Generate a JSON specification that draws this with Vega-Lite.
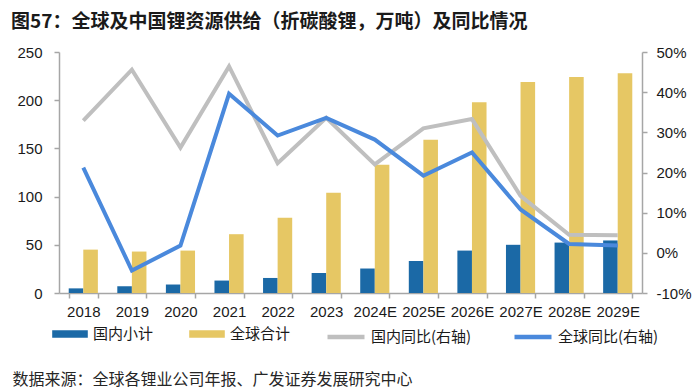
{
  "$schema": "https://vega.github.io/schema/vega-lite/v6.json",
  "width": 583,
  "height": 241,
  "autosize": {"type": "none"},
  "padding": {"left": 59, "top": 52, "right": 58, "bottom": 99},
  "background": "white",
  "title": {
    "text": "图57：全球及中国锂资源供给（折碳酸锂，万吨）及同比情况",
    "anchor": "start",
    "frame": "group",
    "dx": -48,
    "offset": 4,
    "baseline": "middle",
    "font": "Noto Sans CJK SC",
    "fontSize": 19,
    "fontWeight": "bold",
    "color": "#1a1a1a"
  },
  "config": {
    "view": {"stroke": null},
    "axis": {
      "grid": false,
      "domainColor": "#a6a6a6",
      "domainWidth": 1.5,
      "tickColor": "#a6a6a6",
      "tickWidth": 1.5,
      "tickSize": 5,
      "labelFont": "Liberation Sans",
      "labelFontSize": 15,
      "labelColor": "#1a1a1a"
    },
    "legend": {
      "labelFont": "Noto Sans CJK SC",
      "labelFontSize": 15,
      "labelColor": "#1a1a1a",
      "padding": 0,
      "title": null
    }
  },
  "datasets": {
    "bars": [
      {"year": "2018", "series": "国内小计", "value": 4.8},
      {"year": "2018", "series": "全球合计", "value": 45},
      {"year": "2019", "series": "国内小计", "value": 7},
      {"year": "2019", "series": "全球合计", "value": 43},
      {"year": "2020", "series": "国内小计", "value": 8.8},
      {"year": "2020", "series": "全球合计", "value": 44},
      {"year": "2021", "series": "国内小计", "value": 12.9},
      {"year": "2021", "series": "全球合计", "value": 61},
      {"year": "2022", "series": "国内小计", "value": 15.6},
      {"year": "2022", "series": "全球合计", "value": 78},
      {"year": "2023", "series": "国内小计", "value": 20.8},
      {"year": "2023", "series": "全球合计", "value": 104},
      {"year": "2024E", "series": "国内小计", "value": 25.4},
      {"year": "2024E", "series": "全球合计", "value": 133},
      {"year": "2025E", "series": "国内小计", "value": 33.2},
      {"year": "2025E", "series": "全球合计", "value": 159},
      {"year": "2026E", "series": "国内小计", "value": 44},
      {"year": "2026E", "series": "全球合计", "value": 198},
      {"year": "2027E", "series": "国内小计", "value": 50},
      {"year": "2027E", "series": "全球合计", "value": 219},
      {"year": "2028E", "series": "国内小计", "value": 52.3},
      {"year": "2028E", "series": "全球合计", "value": 224},
      {"year": "2029E", "series": "国内小计", "value": 54.5},
      {"year": "2029E", "series": "全球合计", "value": 228}
    ],
    "lines": [
      {"year": "2018", "series": "国内同比(右轴)", "yoy": 32.9},
      {"year": "2019", "series": "国内同比(右轴)", "yoy": 45.6},
      {"year": "2020", "series": "国内同比(右轴)", "yoy": 26.2},
      {"year": "2021", "series": "国内同比(右轴)", "yoy": 46.4},
      {"year": "2022", "series": "国内同比(右轴)", "yoy": 22.3},
      {"year": "2023", "series": "国内同比(右轴)", "yoy": 33.6},
      {"year": "2024E", "series": "国内同比(右轴)", "yoy": 22},
      {"year": "2025E", "series": "国内同比(右轴)", "yoy": 31},
      {"year": "2026E", "series": "国内同比(右轴)", "yoy": 33.3},
      {"year": "2027E", "series": "国内同比(右轴)", "yoy": 14.2},
      {"year": "2028E", "series": "国内同比(右轴)", "yoy": 4.5},
      {"year": "2029E", "series": "国内同比(右轴)", "yoy": 4.4},
      {"year": "2018", "series": "全球同比(右轴)", "yoy": 21.2},
      {"year": "2019", "series": "全球同比(右轴)", "yoy": -4.4},
      {"year": "2020", "series": "全球同比(右轴)", "yoy": 1.8},
      {"year": "2021", "series": "全球同比(右轴)", "yoy": 39.6},
      {"year": "2022", "series": "全球同比(右轴)", "yoy": 29.2},
      {"year": "2023", "series": "全球同比(右轴)", "yoy": 33.6},
      {"year": "2024E", "series": "全球同比(右轴)", "yoy": 28.2},
      {"year": "2025E", "series": "全球同比(右轴)", "yoy": 19.2},
      {"year": "2026E", "series": "全球同比(右轴)", "yoy": 25},
      {"year": "2027E", "series": "全球同比(右轴)", "yoy": 10.8},
      {"year": "2028E", "series": "全球同比(右轴)", "yoy": 2.2},
      {"year": "2029E", "series": "全球同比(右轴)", "yoy": 1.8}
    ]
  },
  "layer": [
    {
      "data": {"name": "bars"},
      "mark": {"type": "bar"},
      "encoding": {
        "x": {
          "field": "year",
          "type": "nominal",
          "sort": null,
          "scale": {"paddingInner": 0.4, "paddingOuter": 0.2},
          "axis": {
            "labelAngle": 0,
            "tickBand": "extent",
            "labelPadding": 6,
            "title": "数据来源：全球各锂业公司年报、广发证券发展研究中心",
            "titleX": -47,
            "titleY": 86,
            "titleAlign": "left",
            "titleBaseline": "middle",
            "titleFont": "Noto Sans CJK SC",
            "titleFontSize": 16,
            "titleFontWeight": "normal",
            "titleColor": "#262626"
          }
        },
        "xOffset": {
          "field": "series",
          "type": "nominal",
          "sort": ["国内小计", "全球合计"],
          "scale": {"paddingInner": 0, "paddingOuter": 0}
        },
        "y": {
          "field": "value",
          "type": "quantitative",
          "scale": {"domain": [0, 250], "nice": false},
          "axis": {"values": [0, 50, 100, 150, 200, 250], "labelPadding": 12, "title": null}
        },
        "fill": {
          "field": "series",
          "type": "nominal",
          "sort": ["国内小计", "全球合计"],
          "scale": {"domain": ["国内小计", "全球合计"], "range": ["#1b69a6", "#e6c764"]},
          "legend": {
            "orient": "none",
            "direction": "horizontal",
            "legendX": -7,
            "legendY": 264,
            "symbolType": "M-1,-0.21L1,-0.21L1,0.21L-1,0.21Z",
            "symbolSize": 1267,
            "symbolStrokeWidth": 0,
            "labelOffset": 5,
            "columnPadding": 35
          }
        }
      }
    },
    {
      "data": {"name": "lines"},
      "mark": {"type": "line", "strokeWidth": 4},
      "encoding": {
        "x": {"field": "year", "type": "nominal", "sort": null},
        "y": {
          "field": "yoy",
          "type": "quantitative",
          "scale": {"domain": [-10, 50], "nice": false},
          "axis": {
            "orient": "right",
            "values": [-10, 0, 10, 20, 30, 40, 50],
            "labelExpr": "datum.value + '%'",
            "labelPadding": 9,
            "title": null
          }
        },
        "stroke": {
          "field": "series",
          "type": "nominal",
          "sort": ["国内同比(右轴)", "全球同比(右轴)"],
          "scale": {"domain": ["国内同比(右轴)", "全球同比(右轴)"], "range": ["#bfbfbf", "#4a89dc"]},
          "legend": {
            "orient": "none",
            "direction": "horizontal",
            "legendX": 266,
            "legendY": 264,
            "symbolType": "stroke",
            "symbolSize": 1369,
            "symbolStrokeWidth": 4.5,
            "labelOffset": 4,
            "columnPadding": 33
          }
        }
      }
    }
  ],
  "resolve": {"scale": {"y": "independent"}}
}
